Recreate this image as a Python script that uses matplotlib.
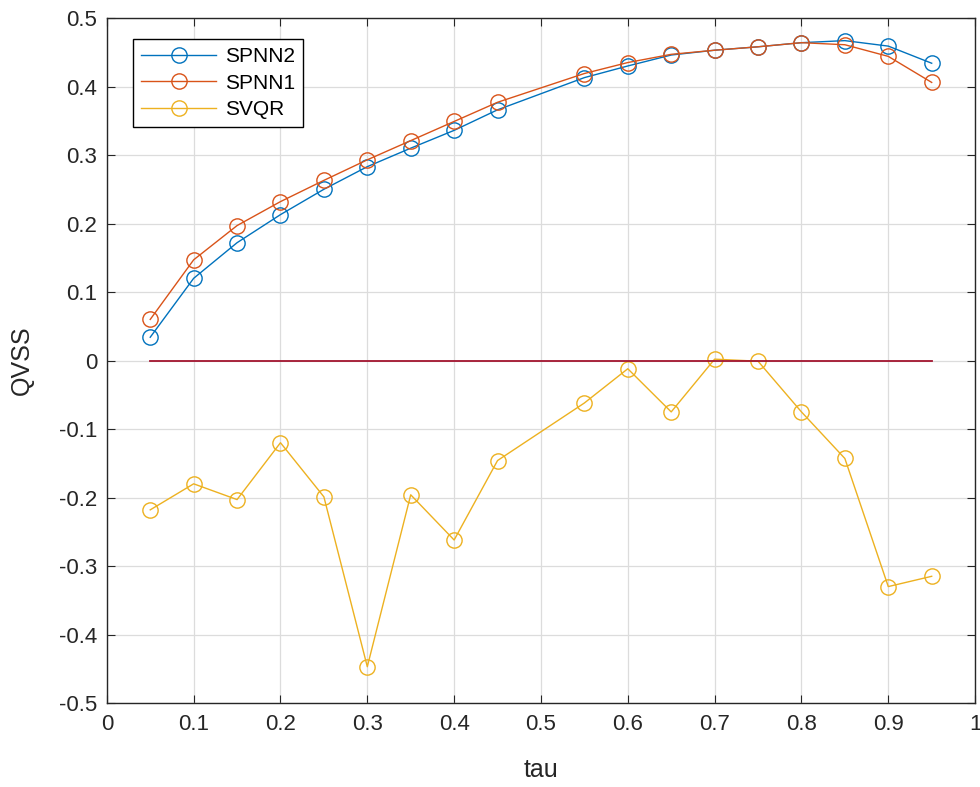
import matplotlib
matplotlib.use('Agg')
from matplotlib import pyplot as plt
import numpy as np

plt.rcParams.update({'font.family': 'Liberation Sans'})

# tau values (0.5 is missing in the data)
tau = [0.05, 0.1, 0.15, 0.2, 0.25, 0.3, 0.35, 0.4, 0.45,
       0.55, 0.6, 0.65, 0.7, 0.75, 0.8, 0.85, 0.9, 0.95]
spnn2 = [0.034, 0.120, 0.172, 0.213, 0.250, 0.283, 0.310, 0.336, 0.366,
         0.413, 0.430, 0.446, 0.453, 0.458, 0.464, 0.467, 0.459, 0.434]
spnn1 = [0.060, 0.147, 0.197, 0.232, 0.263, 0.293, 0.321, 0.349, 0.377,
         0.419, 0.435, 0.447, 0.453, 0.458, 0.464, 0.461, 0.444, 0.406]
svqr = [-0.218, -0.180, -0.203, -0.120, -0.199, -0.447, -0.196, -0.262, -0.146,
        -0.062, -0.012, -0.075, 0.002, -0.001, -0.075, -0.143, -0.330, -0.315]
zero_line = [0.05, 0.95]

fig = plt.figure(figsize=(9.8, 7.87), dpi=100)
ax = fig.add_axes([0.109, 0.1067, 0.886, 0.8704])

ax.plot(tau, spnn2, color='#0072BD', marker='o', markersize=11, mfc='none', lw=1.0, mew=1.0, label='SPNN2')
ax.plot(tau, spnn1, color='#D95319', marker='o', markersize=11, mfc='none', lw=1.0, mew=1.0, label='SPNN1')
ax.plot(tau, svqr, color='#EDB120', marker='o', markersize=11, mfc='none', lw=1.0, mew=1.0, label='SVQR')
ax.plot(zero_line, [0, 0], color='#A2142F', lw=1.3)

ax.set_xlim(0, 1)
ax.set_ylim(-0.5, 0.5)
ax.set_xticks(np.arange(0, 1.01, 0.1))
ax.set_yticks(np.arange(-0.5, 0.51, 0.1))
ax.set_xticklabels(['0', '0.1', '0.2', '0.3', '0.4', '0.5', '0.6', '0.7', '0.8', '0.9', '1'])
ax.set_yticklabels(['-0.5', '-0.4', '-0.3', '-0.2', '-0.1', '0', '0.1', '0.2', '0.3', '0.4', '0.5'])
ax.grid(True, color='#dcdcdc', lw=0.9)
ax.set_axisbelow(True)
ax.tick_params(direction='in', top=True, right=True, labelsize=16, length=6, colors='#262626')
ax.tick_params(axis='x', pad=8)
ax.tick_params(axis='y', pad=7)
for s in ax.spines.values():
    s.set_color('#262626')
    s.set_linewidth(1.0)

ax.set_xlabel('tau', fontsize=18, color='#262626', va='center')
ax.set_ylabel('QVSS', fontsize=18, color='#262626', va='center')
ax.xaxis.set_label_coords(0.5, -0.098)
ax.yaxis.set_label_coords(-0.098, 0.5)

leg = ax.legend(loc='upper left', bbox_to_anchor=(133 / 980, 1 - 39 / 787), bbox_transform=fig.transFigure,
                fontsize=15, fancybox=False, edgecolor='black', framealpha=1, handlelength=3.6,
                borderpad=0.4, labelspacing=0.35, handletextpad=0.4, borderaxespad=0)
leg.get_frame().set_linewidth(1.0)

fig.savefig('out.png', dpi=100)
